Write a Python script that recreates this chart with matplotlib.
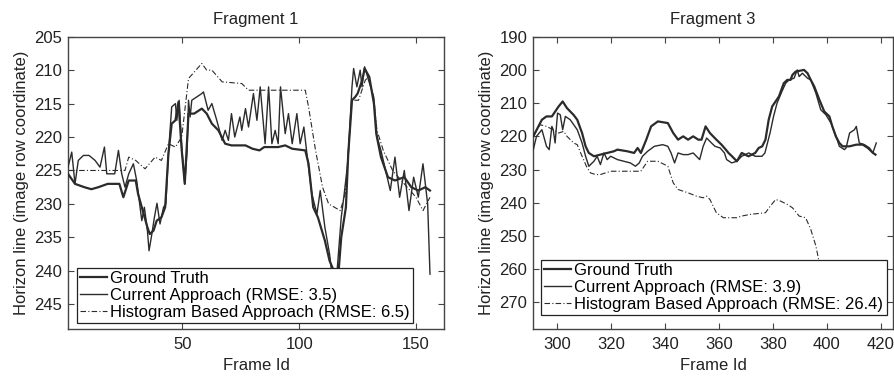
import matplotlib
matplotlib.use("Agg")
import matplotlib.pyplot as plt

plt.rcParams['font.family'] = ['Liberation Sans', 'DejaVu Sans']

# ---------------- Fragment 1 data ----------------
f1_gt_x = [1, 4, 8, 11, 14, 18, 23, 24.7, 27, 30, 31, 33, 35, 36, 37.6, 39, 41, 42.6, 44, 45.4, 47, 48.3, 49.7, 51, 52.6, 55, 58.3, 60.4, 62.6, 65.4, 68.3, 71, 77, 80, 83, 85, 91, 94, 97, 102.6, 104, 106, 108, 111, 113, 115.4, 117, 118, 120, 121, 122.6, 124, 125, 127, 128, 130, 132, 133, 135, 138, 141, 145, 148, 151, 154, 156]
f1_gt_y = [225.5, 227, 227.5, 227.8, 227.5, 227, 227, 229, 226.5, 226.5, 228.5, 231, 233.5, 234.5, 234, 232.5, 232, 230.5, 222.5, 218, 217.5, 214.75, 222, 227, 216.5, 216.5, 215.75, 216.5, 218, 219, 221, 221.25, 221.25, 221.75, 222, 221.5, 221.5, 221.25, 221.75, 222, 224, 230.5, 232, 235.5, 238.5, 240.5, 239.5, 235, 230.5, 222.5, 214.5, 214, 213.5, 211.5, 209.75, 211, 215, 219.5, 223, 226, 226.5, 226, 227.5, 228, 227.5, 228]

f1_cur_x = [1, 2.6, 4, 5.4, 7.6, 10, 12.6, 14.7, 16.6, 17.6, 21, 22.6, 24, 25.4, 27, 29, 30.4, 32.6, 33.7, 35, 35.7, 36.9, 38, 39.1, 40.4, 41.9, 42.9, 44, 45.4, 47, 47.6, 48.6, 49.7, 51, 52, 52.6, 53.3, 54, 58.3, 59, 61, 62.6, 64.7, 67, 68.3, 69.7, 71, 72.4, 74.6, 75.4, 77, 78.3, 80.4, 81.9, 83.3, 85.4, 86.9, 88.3, 89.7, 91, 92, 94, 95.4, 97, 99, 100.4, 102, 103.3, 105.4, 107.6, 109, 111, 113, 114, 116, 118, 119.1, 120.9, 122.6, 123.3, 124.7, 126.1, 126.9, 128, 129.7, 131.9, 133.3, 135, 137, 139, 141, 143, 145, 147, 149, 151, 153, 155, 156]
f1_cur_y = [224.5, 222.25, 227, 223.5, 222.75, 222.75, 223.5, 224.5, 221.5, 225.5, 225.5, 222, 225.5, 227.5, 225.5, 224, 226.5, 232.5, 230.5, 234, 237, 234.5, 232, 229.9, 233, 230.5, 230, 222.5, 215.5, 215, 217.5, 214.5, 221.5, 227, 222, 214.5, 217, 214.5, 213.5, 213.25, 216, 215, 217.5, 220.5, 219, 220.5, 216.5, 220, 217, 219, 215.75, 218.5, 213.5, 217.5, 212.5, 221, 212.5, 221, 219, 221, 212.5, 219.5, 216.5, 221, 216.5, 221, 218.5, 222.5, 228.5, 231.5, 228, 233.5, 237.5, 240.5, 241, 232, 229, 223.5, 212.5, 209.75, 212.5, 210, 212.5, 209.5, 211.5, 214, 220, 222, 225, 228, 223, 229, 225, 231, 226, 229, 224, 230, 240.5]

f1_hist_x = [1, 25.4, 27, 30, 34, 38.3, 41, 44, 47, 49.7, 52.6, 58.3, 60.4, 62.6, 67, 75.4, 78.3, 102.6, 104, 107, 110, 112.6, 117.6, 119.7, 122.6, 125.4, 128.3, 129.7, 132, 133.3, 136, 140, 145, 150, 153, 156]
f1_hist_y = [225, 225, 223, 223.5, 224.75, 223, 223.5, 221, 221.5, 220, 211.25, 209, 210, 210, 211.75, 212, 213, 213, 215.5, 222, 227.5, 230, 231, 228.5, 214.5, 214.5, 211.5, 211, 214.5, 219, 222, 225, 227, 229, 231, 229]

# ---------------- Fragment 3 data ----------------
f3_gt_x = [291.1, 294.3, 296, 298, 300.5, 302, 303.6, 306, 307.4, 309.2, 310.5, 311.7, 313.6, 316, 318.5, 321, 322.3, 326, 328.5, 329.8, 331, 333, 334.8, 337.3, 341, 343, 344.8, 346.7, 348.5, 350.4, 352.3, 353.5, 355, 356.6, 359, 360.9, 362.5, 363.5, 364.8, 366, 366.6, 368.4, 370.9, 373.4, 374.7, 376, 377.2, 378.4, 379.7, 382.2, 384, 385.3, 386.5, 387.2, 388.4, 391.5, 392.8, 394, 395.3, 397.2, 399, 400.9, 402, 403.3, 404.6, 405.8, 408.4, 410.9, 413.3, 415.2, 417.1, 418]
f3_gt_y = [220, 215, 214, 214, 211, 209.5, 211.5, 213.5, 215, 219, 223, 225, 226, 225.5, 225, 224.5, 224, 224.5, 225, 223.5, 225, 221, 217, 215.5, 216, 219, 221, 220, 221, 220, 221, 221, 217, 219, 221, 222.5, 224, 225, 226, 227, 227.5, 225, 226, 225, 223.5, 223, 221, 215, 211, 208, 204, 203, 203, 201.5, 200.5, 200, 201, 203, 205, 209, 212.5, 214, 217, 220, 222, 223, 223, 222.5, 222.5, 223.5, 225, 225.5]

f3_cur_x = [291.1, 292.3, 294.3, 296, 297, 298, 298.5, 299.2, 300.1, 301.1, 302, 303, 304.8, 307.4, 309.2, 310.5, 311.7, 313.6, 314.8, 316, 317.3, 318.5, 319.8, 322.3, 324.7, 327.1, 329, 330.4, 331, 331.6, 333.5, 336, 339.1, 341, 342.2, 343.5, 344.8, 346.7, 348.5, 350.4, 351.6, 352.8, 354.1, 355.4, 357.2, 358.5, 360.4, 362, 362.8, 364.7, 366.6, 368.4, 371, 373.4, 375.9, 377, 378.9, 380.2, 381.5, 383.3, 384.7, 386, 387.8, 389, 389.7, 390.9, 392.8, 394, 395.9, 397.7, 399.6, 401.5, 403.4, 404.6, 406.5, 407.1, 408.4, 410.2, 410.9, 412, 413.9, 415.8, 417, 418.3]
f3_cur_y = [224, 220, 218, 223, 224, 217, 218, 222, 213, 213.5, 218, 214, 215, 218, 222, 226, 229, 227.5, 226, 228.5, 225, 227, 226, 227, 227.5, 228, 229, 228, 227, 226, 224.5, 223, 222.5, 223, 225, 228, 225, 225.5, 225.5, 225, 226, 227, 223, 220.5, 222, 223, 223.5, 225, 227, 228, 227.5, 226, 225, 226, 226, 225, 219, 214, 210, 206.5, 204, 203, 202.5, 200, 202, 201, 202.5, 203, 207, 212, 213.5, 216, 220, 223, 224, 223.5, 219, 218, 217, 222, 222.5, 223.5, 225, 222]

f3_hist_x = [291.1, 293.6, 296, 298.5, 300.5, 302.4, 303.6, 306.1, 307.4, 309.2, 310.8, 312.3, 314.2, 316, 317.9, 319.8, 331, 333.5, 337.3, 339.8, 341, 343, 344.8, 348.5, 351.6, 354.1, 355.4, 356.6, 359, 361.6, 366.6, 368.4, 371.5, 377.2, 379, 381, 382.8, 385.3, 387.2, 389.7, 392.1, 394, 395.9, 396.9]
f3_hist_y = [220, 216.5, 217, 218, 219, 218.5, 220, 222, 222.5, 226, 229, 231, 231.5, 231.5, 231, 230.5, 230.5, 227.5, 227.5, 228.5, 229, 234, 236, 237, 238, 238.5, 238, 239, 243, 244.5, 244.5, 244, 243.5, 243, 241, 239, 239.5, 240.5, 241.5, 244, 244.5, 248, 253, 257]

titles = ["Fragment 1", "Fragment 3"]
labels1 = ["Ground Truth", "Current Approach (RMSE: 3.5)", "Histogram Based Approach (RMSE: 6.5)"]
labels3 = ["Ground Truth", "Current Approach (RMSE: 3.9)", "Histogram Based Approach (RMSE: 26.4)"]
yticks1 = [205, 210, 215, 220, 225, 230, 235, 240, 245]
yticks3 = [190, 200, 210, 220, 230, 240, 250, 260, 270]
xticks1 = [50, 100, 150]
xticks3 = [300, 320, 340, 360, 380, 400, 420]

W, H = 894, 379
fig = plt.figure(figsize=(W / 100, H / 100), dpi=100)
fig.patch.set_facecolor('white')

line_col = '#2b2b2b'
spine_col = '#444444'
fs = 12


def setup(ax, series, labels, title, xlim, ylim, xticks, yticks, ylabel, legend_anchor):
    gt, cur, hist = series
    h1, = ax.plot(gt[0], gt[1], color=line_col, lw=1.6, zorder=3)
    h2, = ax.plot(cur[0], cur[1], color=line_col, lw=1.0, zorder=3)
    h3, = ax.plot(hist[0], hist[1], color=line_col, lw=0.8, ls='-.', dashes=(5, 2, 1, 2), zorder=2)
    ax.set_xlim(*xlim)
    ax.set_ylim(ylim[1], ylim[0])
    ax.set_xticks(xticks)
    ax.set_yticks(yticks)
    ax.tick_params(axis='x', pad=6)
    ax.tick_params(direction='in', top=True, right=True, length=4, width=0.8,
                   colors=spine_col, labelcolor='#222222', labelsize=fs)
    ax.tick_params(axis='y', pad=4)
    for s in ax.spines.values():
        s.set_color(spine_col)
        s.set_linewidth(1.0)
    ax.set_title(title, fontsize=fs, color='#222222', pad=9)
    ax.set_xlabel("Frame Id", fontsize=fs, color='#222222', labelpad=4)
    if ylabel:
        ax.set_ylabel(ylabel, fontsize=fs, color='#222222', labelpad=4)
    leg = ax.legend([h1, h2, h3], labels, loc='lower left', bbox_to_anchor=legend_anchor,
                    fontsize=fs, frameon=True, fancybox=False, framealpha=1,
                    edgecolor='#222222', handlelength=1.6, handletextpad=0.2,
                    labelspacing=0.1, borderpad=0.2, borderaxespad=0)
    leg.get_frame().set_linewidth(0.9)
    leg.set_zorder(5)
    return ax


ax1 = fig.add_axes([68 / W, 1 - 329 / H, (444 - 68) / W, (329 - 36.7) / H])
setup(ax1, [(f1_gt_x, f1_gt_y), (f1_cur_x, f1_cur_y), (f1_hist_x, f1_hist_y)], labels1,
      titles[0], (1, 162), (205, 248.7), xticks1, yticks1,
      "Horizon line (image row coordinate)", (9 / 376, 6 / 292))

ax2 = fig.add_axes([533 / W, 1 - 329 / H, (893 - 533) / W, (329 - 36.7) / H])
setup(ax2, [(f3_gt_x, f3_gt_y), (f3_cur_x, f3_cur_y), (f3_hist_x, f3_hist_y)], labels3,
      titles[1], (291, 424.5), (190, 278), xticks3, yticks3,
      "Horizon line (image row coordinate)", (8 / 360, 14 / 292))

fig.savefig("out.png", dpi=100, facecolor='white')
